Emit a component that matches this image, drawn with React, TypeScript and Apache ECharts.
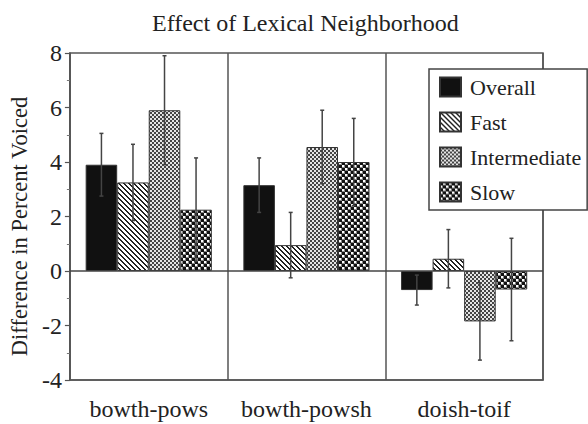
import React, { useEffect, useRef } from "react";
import * as echarts from "echarts";

const categories = ["bowth-pows", "bowth-powsh", "doish-toif"];
const seriesNames = ["Overall", "Fast", "Intermediate", "Slow"];
const overall = [3.9, 3.15, -0.7];
const fast = [3.25, 0.95, 0.45];
const intermediate = [5.9, 4.55, -1.85];
const slow = [2.25, 4.0, -0.68];
const overallErr = [1.15, 1.0, 0.55];
const fastErr = [1.4, 1.2, 1.07];
const intermediateErr = [2.0, 1.35, 1.42];
const slowErr = [1.9, 1.6, 1.88];
const yTicks = { min: -4, max: 8, interval: 2 };
const titleText = "Effect of Lexical Neighborhood";
const yName = "Difference in Percent Voiced";

const FONT = "Liberation Serif";
const T = { fontFamily: FONT, fontWeight: "normal", color: "#222" };

function makeTile(size: number, fn: (x: number, y: number) => string) {
  const c = document.createElement("canvas");
  c.width = size;
  c.height = size;
  const ctx = c.getContext("2d")!;
  for (let y = 0; y < size; y++) {
    for (let x = 0; x < size; x++) {
      ctx.fillStyle = fn(x, y);
      ctx.fillRect(x, y, 1, 1);
    }
  }
  return { image: c, repeat: "repeat", imageWidth: size, imageHeight: size } as any;
}

export default function App() {
  const ref = useRef<HTMLDivElement>(null);
  useEffect(() => {
    if (!ref.current) return;
    const chart = echarts.init(ref.current, null, { renderer: "svg" });

    const fastPat = makeTile(5, (x, y) => (((x - y) % 5) + 5) % 5 < 2 ? "#222" : "#fff");
    const interPat = makeTile(4, (x, y) =>
      (Math.floor(x / 2) + Math.floor(y / 2)) % 2 === 0 ? "#e4e4e4" : "#444"
    );
    const slowPat = makeTile(6, (x, y) => {
      const cell = (Math.floor(x / 3) + Math.floor(y / 3)) % 2;
      if (cell === 0) return "#111";
      const lx = x % 3, ly = y % 3;
      return lx < 2 && ly < 2 ? "#fff" : "#888";
    });
    const fills = ["#111", fastPat, interPat, slowPat];
    const values = [overall, fast, intermediate, slow];
    const errs = [overallErr, fastErr, intermediateErr, slowErr];

    const barSeries = seriesNames.map((name, k) => ({
      name,
      type: "bar",
      data: values[k],
      barGap: "0%",
      barCategoryGap: "20%",
      itemStyle: { color: fills[k], borderColor: "#333", borderWidth: 1 },
      z: 2,
      ...(k === 0
        ? {
            markLine: {
              silent: true,
              symbol: "none",
              label: { show: false },
              lineStyle: { color: "#444", width: 1.5, type: "solid" },
              data: [{ yAxis: 0 }],
            },
          }
        : {}),
    }));

    const errData: number[][] = [];
    values.forEach((vals, k) => {
      vals.forEach((v, i) => {
        errData.push([i, v - errs[k][i], v + errs[k][i], k]);
      });
    });

    const option: any = {
      animation: false,
      backgroundColor: "#fff",
      textStyle: { ...T },
      title: {
        text: titleText,
        left: 147,
        top: 6,
        textStyle: { ...T, fontSize: 24 },
      },
      legend: {
        data: seriesNames,
        orient: "vertical",
        left: 429,
        top: 69,
        itemWidth: 21,
        itemHeight: 19,
        itemGap: 13,
        padding: [7, 6, 7, 10],
        icon: "rect",
        backgroundColor: "#fff",
        borderColor: "#444",
        borderWidth: 1.5,
        borderRadius: 0,
        z: 10,
        textStyle: { ...T, fontSize: 22, padding: [0, 0, 0, 4] },
      },
      grid: {
        left: 67,
        right: 45,
        top: 53,
        bottom: 44,
        show: true,
        borderColor: "#555",
        borderWidth: 1.5,
        backgroundColor: "transparent",
      },
      xAxis: {
        type: "category",
        data: categories,
        axisLine: { onZero: false, lineStyle: { color: "#555", width: 1.5 } },
        axisTick: { show: false },
        splitLine: { show: true, interval: 0, lineStyle: { color: "#555", width: 1.5 } },
        axisLabel: { ...T, interval: 0, fontSize: 24, margin: 17 },
      },
      yAxis: {
        type: "value",
        min: yTicks.min,
        max: yTicks.max,
        interval: yTicks.interval,
        name: yName,
        nameLocation: "middle",
        nameGap: 36,
        nameTextStyle: { ...T, fontSize: 22.5, padding: [0, 20, 0, 0] },
        axisLine: { show: true, lineStyle: { color: "#555", width: 1.5 } },
        axisTick: { show: true, length: 5, lineStyle: { color: "#555", width: 1.2 } },
        minorTick: { show: true, splitNumber: 2, length: 3, lineStyle: { color: "#777", width: 1 } },
        splitLine: { show: false },
        axisLabel: { ...T, fontSize: 24, margin: 8 },
      },
      series: [
        ...barSeries,
        {
          name: "err",
          type: "custom",
          z: 5,
          silent: true,
          data: errData,
          encode: { x: 0, y: [1, 2] },
          renderItem: (params: any, api: any) => {
            const ci = api.value(0);
            const lo = api.value(1);
            const hi = api.value(2);
            const k = api.value(3);
            const pLo = api.coord([ci, lo]);
            const pHi = api.coord([ci, hi]);
            const band = api.size([1, 0])[0];
            const bw = (band * 0.8) / 4;
            const x = pLo[0] + (k - 1.5) * bw;
            const style = { stroke: "#444", lineWidth: 1.5 };
            return {
              type: "group",
              children: [
                { type: "line", shape: { x1: x, y1: pLo[1], x2: x, y2: pHi[1] }, style },
                { type: "line", shape: { x1: x - 2, y1: pHi[1], x2: x + 2, y2: pHi[1] }, style },
                { type: "line", shape: { x1: x - 2, y1: pLo[1], x2: x + 2, y2: pLo[1] }, style },
              ],
            };
          },
        },
      ],
    };
    chart.setOption(option);
    return () => chart.dispose();
  }, []);
  return (
    <div
      ref={ref}
      style={{ position: "fixed", left: 0, top: 0, width: 588, height: 424, background: "#fff" }}
    />
  );
}
